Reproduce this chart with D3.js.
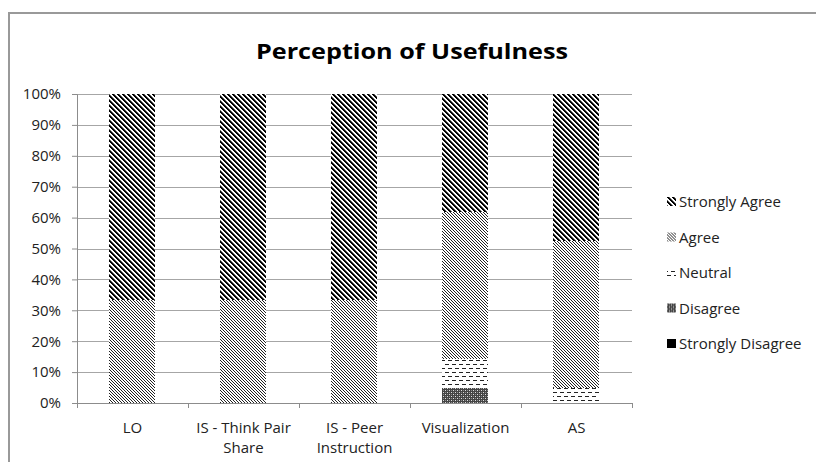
<!DOCTYPE html>
<html>
<head>
<meta charset="utf-8">
<script src="https://cdn.jsdelivr.net/npm/d3@7"></script>
<style>
  html, body { margin: 0; padding: 0; background: #fff; }
  svg { display: block; font-family: "Open Sans", Lato, sans-serif; }
</style>
</head>
<body>
<div id="chart"></div>
<script>
// ===== Chart data =====
const categories = ['LO', 'IS - Think Pair Share', 'IS - Peer Instruction', 'Visualization', 'AS'];
const categoryLines = [['LO'], ['IS - Think Pair', 'Share'], ['IS - Peer', 'Instruction'], ['Visualization'], ['AS']];
const seriesNames = ['Strongly Disagree', 'Disagree', 'Neutral', 'Agree', 'Strongly Agree'];
const stronglyDisagree = [0, 0, 0, 0, 0];
const disagree = [0, 0, 0, 4.8, 0];
const neutral = [0, 0, 0, 9.5, 4.8];
const agree = [33.3, 33.3, 33.3, 47.6, 47.6];
const stronglyAgree = [66.7, 66.7, 66.7, 38.1, 47.6];
const yTicks = [0, 10, 20, 30, 40, 50, 60, 70, 80, 90, 100];
const legendOrder = ['Strongly Agree', 'Agree', 'Neutral', 'Disagree', 'Strongly Disagree'];

const W = 816, H = 462;
const margin = { top: 94, left: 77, right: 184, bottom: 59 };
const plotW = W - margin.left - margin.right;
const plotH = H - margin.top - margin.bottom;
const FONT = '"Open Sans", Lato, sans-serif';
const LABEL_SIZE = 15;

const rows = categories.map((c, i) => ({
  category: c,
  'Strongly Disagree': stronglyDisagree[i],
  'Disagree': disagree[i],
  'Neutral': neutral[i],
  'Agree': agree[i],
  'Strongly Agree': stronglyAgree[i]
}));

const svg = d3.select('#chart').append('svg')
  .attr('width', W)
  .attr('height', H);

// ===== Fill patterns (greyscale, like the original print style) =====
const defs = svg.append('defs');
const patId = name => 'pat-' + name.replace(/\s+/g, '-').toLowerCase();

function pixelPattern(name, size, bg, pixels) {
  const p = defs.append('pattern')
    .attr('id', patId(name))
    .attr('patternUnits', 'userSpaceOnUse')
    .attr('width', size[0]).attr('height', size[1]);
  p.append('rect').attr('width', size[0]).attr('height', size[1]).attr('fill', bg);
  pixels.forEach(([x, y, w, h, c]) => {
    p.append('rect').attr('x', x).attr('y', y).attr('width', w).attr('height', h)
      .attr('fill', c).attr('shape-rendering', 'crispEdges');
  });
}

// strongly agree: wide black "\" stripes
const saPx = [];
for (let y = 0; y < 5; y++) {
  saPx.push([y % 5, y, 1, 1, '#000']);
  saPx.push([(y + 1) % 5, y, 1, 1, '#000']);
  saPx.push([(y + 2) % 5, y, 1, 1, '#666']);
}
pixelPattern('Strongly Agree', [5, 5], '#fff', saPx);

// agree: fine "\" lines
const aPx = [];
for (let y = 0; y < 3; y++) aPx.push([y, y, 1, 1, '#222']);
pixelPattern('Agree', [3, 3], '#fff', aPx);

// neutral: staggered horizontal dashes
pixelPattern('Neutral', [7, 8], '#fff', [
  [0, 2, 4, 1, '#222'],
  [4, 6, 3, 1, '#222'], [0, 6, 1, 1, '#222']
]);

// disagree: dark grey with white dots
pixelPattern('Disagree', [4, 4], '#444', [
  [0, 0, 1, 1, '#ddd'], [2, 2, 1, 1, '#ddd'], [2, 0, 1, 1, '#888'], [0, 2, 1, 1, '#888']
]);

pixelPattern('Strongly Disagree', [4, 4], '#000', []);

// ===== Outer frame =====
svg.append('path')
  .attr('d', `M9,${H} V13 H${W}`)
  .attr('fill', 'none')
  .attr('stroke', '#999')
  .attr('stroke-width', 2);

// ===== Title (original is set wide, so stretch a little) =====
svg.append('text')
  .attr('transform', 'translate(412,59) scale(1.2,1)')
  .attr('text-anchor', 'middle')
  .attr('font-size', 21)
  .attr('font-weight', 'bold')
  .attr('fill', '#000')
  .text('Perception of Usefulness');

const g = svg.append('g')
  .attr('transform', `translate(${margin.left},${margin.top})`);

const x = d3.scaleBand()
  .domain(categories)
  .range([0, plotW])
  .paddingInner(0.585)
  .paddingOuter(0.2925);

const y = d3.scaleLinear()
  .domain([0, 100])
  .range([plotH, 0]);

// gridlines
g.append('g')
  .selectAll('line')
  .data(yTicks.filter(d => d > 0))
  .enter().append('line')
  .attr('x1', 0).attr('x2', plotW)
  .attr('y1', d => Math.round(y(d)) + 0.5)
  .attr('y2', d => Math.round(y(d)) + 0.5)
  .attr('stroke', '#a6a6a6');

// y axis
g.append('g')
  .call(d3.axisLeft(y).tickValues(yTicks).tickSize(5).tickPadding(11).tickFormat(d => d + '%'))
  .call(a => a.selectAll('.domain, .tick line').attr('stroke', '#8c8c8c'))
  .call(a => a.selectAll('text').attr('font-size', LABEL_SIZE).attr('fill', '#222')
    .attr('font-family', FONT));

// stacked bars
const stack = d3.stack().keys(seriesNames);
const layers = stack(rows);

g.append('g')
  .selectAll('g')
  .data(layers)
  .enter().append('g')
  .attr('fill', d => `url(#${patId(d.key)})`)
  .selectAll('rect')
  .data(d => d.filter(s => s[1] - s[0] > 0))
  .enter().append('rect')
  .attr('x', d => Math.round(x(d.data.category)))
  .attr('width', Math.round(x.bandwidth()))
  .attr('y', d => Math.round(y(d[1])))
  .attr('height', d => Math.round(y(d[0])) - Math.round(y(d[1])))
  .attr('shape-rendering', 'crispEdges');

// x axis: line with ticks on category boundaries
const xAxis = g.append('g').attr('transform', `translate(0,${plotH})`);
xAxis.append('line')
  .attr('x1', 0).attr('x2', plotW)
  .attr('y1', 0.5).attr('y2', 0.5)
  .attr('stroke', '#8c8c8c');
xAxis.selectAll('.bound')
  .data(d3.range(categories.length + 1))
  .enter().append('line')
  .attr('class', 'bound')
  .attr('x1', i => Math.round(i * x.step()) + 0.5)
  .attr('x2', i => Math.round(i * x.step()) + 0.5)
  .attr('y1', 0).attr('y2', 5)
  .attr('stroke', '#8c8c8c');

const labels = xAxis.selectAll('.cat')
  .data(categories)
  .enter().append('text')
  .attr('class', 'cat')
  .attr('text-anchor', 'middle')
  .attr('font-size', LABEL_SIZE)
  .attr('fill', '#222')
  .attr('transform', d => `translate(${x(d) + x.bandwidth() / 2},30)`);

labels.selectAll('tspan')
  .data((d, i) => categoryLines[i])
  .enter().append('tspan')
  .attr('x', 0)
  .attr('dy', (d, i) => i === 0 ? 0 : 20)
  .text(d => d);

// legend
const legend = svg.append('g')
  .selectAll('g')
  .data(legendOrder)
  .enter().append('g')
  .attr('transform', (d, i) => `translate(667,${202 + i * 35.5})`);

legend.append('rect')
  .attr('x', 0).attr('y', -5)
  .attr('width', 9).attr('height', 9)
  .attr('fill', d => `url(#${patId(d)})`);

legend.append('text')
  .attr('x', 12)
  .attr('dy', '0.35em')
  .attr('font-size', LABEL_SIZE)
  .attr('fill', '#222')
  .text(d => d);
</script>
</body>
</html>
